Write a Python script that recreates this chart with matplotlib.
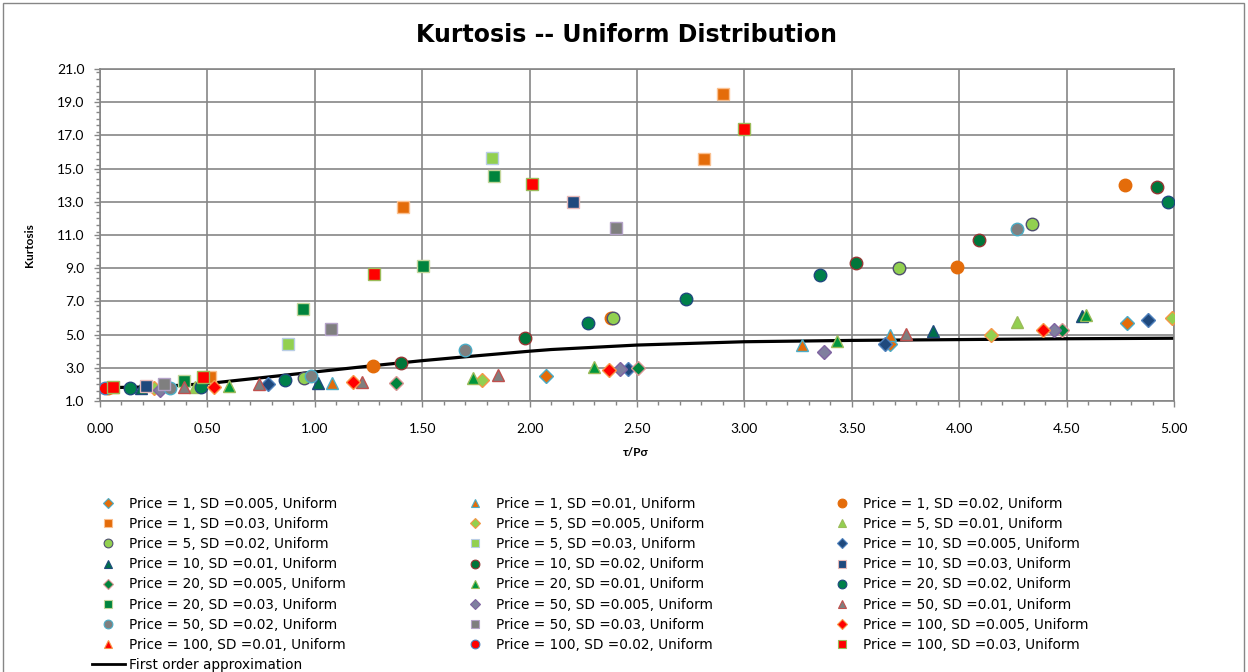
"""Kurtosis vs tau/(P*sigma) scatter for uniform-distributed prices, Excel-style."""

import matplotlib

matplotlib.use("Agg")
import matplotlib.pyplot as plt
import numpy as np
from matplotlib.lines import Line2D
from matplotlib.patches import Rectangle
from matplotlib.ticker import FixedLocator, MultipleLocator

plt.rcParams["font.family"] = ["Lato", "DejaVu Sans"]

LABELS = [
    "Price = 1, SD =0.005, Uniform", "Price = 1, SD =0.01, Uniform",
    "Price = 1, SD =0.02, Uniform", "Price = 1, SD =0.03, Uniform",
    "Price = 5, SD =0.005, Uniform", "Price = 5, SD =0.01, Uniform",
    "Price = 5, SD =0.02, Uniform", "Price = 5, SD =0.03, Uniform",
    "Price = 10, SD =0.005, Uniform", "Price = 10, SD =0.01, Uniform",
    "Price = 10, SD =0.02, Uniform", "Price = 10, SD =0.03, Uniform",
    "Price = 20, SD =0.005, Uniform", "Price = 20, SD =0.01, Uniform",
    "Price = 20, SD =0.02, Uniform", "Price = 20, SD =0.03, Uniform",
    "Price = 50, SD =0.005, Uniform", "Price = 50, SD =0.01, Uniform",
    "Price = 50, SD =0.02, Uniform", "Price = 50, SD =0.03, Uniform",
    "Price = 100, SD =0.005, Uniform", "Price = 100, SD =0.01, Uniform",
    "Price = 100, SD =0.02, Uniform", "Price = 100, SD =0.03, Uniform",
]

SERIES_X = [
    [2.075, 3.68, 4.78],
    [1.08, 3.27, 3.68],
    [0.035, 1.27, 2.38, 3.99, 4.77],
    [0.51, 1.41, 2.81, 2.90],
    [0.25, 1.78, 4.15, 4.99],
    [0.44, 4.27],
    [0.95, 2.39, 3.72, 4.34],
    [0.875, 1.826],
    [0.78, 2.46, 3.655, 4.88],
    [0.19, 1.016, 3.88, 4.57],
    [1.40, 1.98, 3.52, 4.09, 4.92],
    [0.214, 2.20],
    [1.377, 2.505, 4.48],
    [0.60, 1.735, 2.30, 3.43, 4.59],
    [0.14, 0.47, 0.86, 2.27, 2.73, 3.35, 4.97],
    [0.39, 0.947, 1.505, 1.833],
    [0.28, 2.42, 3.37, 4.44],
    [0.39, 0.74, 1.22, 1.855, 3.75],
    [0.326, 0.98, 1.70, 4.27],
    [0.30, 1.077, 2.40],
    [0.53, 1.18, 2.37, 4.39],
    [0.06],
    [0.025],
    [0.062, 0.48, 1.275, 2.01, 3.0],
]

SERIES_Y = [
    [2.5, 4.45, 5.72],
    [2.1, 4.37, 4.95],
    [1.8, 3.1, 6.0, 9.05, 14.0],
    [2.43, 12.7, 15.6, 19.5],
    [1.8, 2.25, 5.0, 6.0],
    [1.85, 5.78],
    [2.37, 6.02, 9.0, 11.68],
    [4.43, 15.62],
    [2.02, 2.95, 4.42, 5.85],
    [1.8, 2.07, 5.2, 6.12],
    [3.3, 4.8, 9.3, 10.72, 13.88],
    [1.92, 12.97],
    [2.1, 2.97, 5.3],
    [1.9, 2.37, 3.05, 4.63, 6.2],
    [1.77, 1.85, 2.27, 5.68, 7.12, 8.62, 13.0],
    [2.2, 6.52, 9.13, 14.57],
    [1.68, 2.9, 3.97, 5.3],
    [1.83, 2.0, 2.13, 2.55, 5.02],
    [1.8, 2.5, 4.05, 11.36],
    [2.02, 5.36, 11.43],
    [1.86, 2.17, 2.85, 5.25],
    [1.82],
    [1.8],
    [1.82, 2.43, 8.65, 14.1, 17.4],
]

APPROX_X = [0, 0.25, 0.5, 0.75, 1.0, 1.25, 1.5, 1.75, 2.0, 2.1, 2.5, 3.0, 3.5, 4.0, 4.5, 5.0]
APPROX_Y = [1.8, 1.85, 2.05, 2.4, 2.75, 3.1, 3.43, 3.72, 4.0, 4.1, 4.37, 4.57, 4.65, 4.7, 4.75, 4.78]

# marker, face, edge per series
STYLES = [
    ("D", "#E46C0A", "#4BACC6"), ("^", "#E46C0A", "#4BACC6"),
    ("o", "#E46C0A", "#E46C0A"), ("s", "#E46C0A", "#FAC090"),
    ("D", "#92D050", "#F79646"), ("^", "#92D050", "#9BBB59"),
    ("o", "#92D050", "#4F4F6F"), ("s", "#92D050", "#B9CDE5"),
    ("D", "#1F497D", "#4F81BD"), ("^", "#00704A", "#1F497D"),
    ("o", "#00763A", "#943634"), ("s", "#1F497D", "#E6B9B8"),
    ("D", "#00843D", "#D99694"), ("^", "#00963C", "#9BBB59"),
    ("o", "#00804A", "#1F497D"), ("s", "#00843D", "#C3D69B"),
    ("D", "#7F7F9F", "#8064A2"), ("^", "#7F7F7F", "#C0504D"),
    ("o", "#7F7F7F", "#4BACC6"), ("s", "#7F7F7F", "#B3A2C7"),
    ("D", "#FF0000", "#F79646"), ("^", "#FF0000", "#F79646"),
    ("o", "#FF0000", "#4F81BD"), ("s", "#FF0000", "#9BBB59"),
]
SIZES = {"D": 7.5, "^": 9.0, "o": 9.0, "s": 8.0}
GRID = "#868686"

fig = plt.figure(figsize=(12.48, 6.72), dpi=100)
ax = fig.add_axes([100 / 1248, 1 - 401 / 672, 1074 / 1248, 332 / 672])

ax.plot(APPROX_X, APPROX_Y, color="black", linewidth=2.3, zorder=2)

handles = []
for label, xs, ys, (marker, face, edge) in zip(LABELS, SERIES_X, SERIES_Y, STYLES):
    ax.plot(xs, ys, linestyle="none", marker=marker, markersize=SIZES[marker],
            markerfacecolor=face, markeredgecolor=edge, markeredgewidth=1.0, zorder=3)
    handles.append(Line2D([], [], linestyle="none", marker=marker, markersize=SIZES[marker] * 0.7,
                          markerfacecolor=face, markeredgecolor=edge, markeredgewidth=0.8, label=label))

ax.set_xlim(0, 5)
ax.set_ylim(1, 21)
ax.xaxis.set_major_locator(MultipleLocator(0.5))
ax.xaxis.set_minor_locator(MultipleLocator(0.1))
ax.yaxis.set_major_locator(FixedLocator(np.arange(1, 22, 2)))
ax.yaxis.set_minor_locator(MultipleLocator(0.4))
ax.xaxis.set_major_formatter(lambda v, _: f"{v:.2f}")
ax.yaxis.set_major_formatter(lambda v, _: f"{v:.1f}")
ax.tick_params(axis="x", which="major", length=4, width=1, color=GRID, labelsize=10, pad=12)
ax.tick_params(axis="y", which="major", length=4, width=1, color=GRID, labelsize=10, pad=7)
ax.tick_params(which="minor", length=3, width=1, color=GRID)
ax.grid(True, which="major", color=GRID, linewidth=1.2)
ax.set_axisbelow(True)
for spine in ax.spines.values():
    spine.set_color(GRID)
    spine.set_linewidth(1.2)

fig.text(627 / 1248, 1 - 35 / 672, "Kurtosis -- Uniform Distribution",
         ha="center", va="center", fontsize=17, fontweight="bold", family="DejaVu Sans")
fig.text(30 / 1248, 1 - 245 / 672, "Kurtosis", rotation=90, ha="center", va="center",
         fontsize=8.5, fontweight="bold")
fig.text(636 / 1248, 1 - 453 / 672, "τ/Pσ", ha="center", va="center",
         fontsize=8.5, fontweight="bold")

# three legend columns, filled row by row like the Excel legend
line_handle = Line2D([], [], color="black", linewidth=2.0, label="First order approximation")
columns = [handles[0::3] + [line_handle], handles[1::3], handles[2::3]]
col_left = [92, 459, 826]
for col, left in zip(columns, col_left):
    fig.legend(handles=col, loc="upper left", bbox_to_anchor=(left / 1248, 1 - 497 / 672),
               frameon=False, prop={"family": "DejaVu Sans", "size": 9.8},
               handlelength=2.4, handletextpad=0.3,
               labelspacing=0.45, borderpad=0, borderaxespad=0)

fig.patches.append(Rectangle((3 / 1248, -0.02), 1241 / 1248, 1.02 - 3 / 672,
                             transform=fig.transFigure, fill=False, edgecolor=GRID, linewidth=1.0))

fig.savefig("out.png", dpi=100)
